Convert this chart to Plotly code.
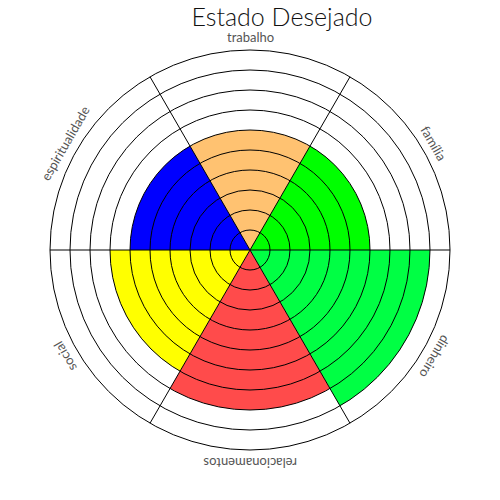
import numpy as np
import plotly.graph_objects as go

categories = ["trabalho", "família", "dinheiro", "relacionamentos", "social", "espiritualidade"]
values = [6, 6, 9, 8, 7, 6]
colors = ["#FFC271", "#00FF00", "#00FF44", "#FF4B4B", "#FFFF00", "#0000FF"]
r_max = 10

n = len(categories)
step = 360 / n
thetas = [90 - step * i for i in range(n)]

fig = go.Figure()
for cat, v, c, th in zip(categories, values, colors, thetas):
    fig.add_trace(go.Barpolar(
        r=[v], theta=[th], width=[step], name=cat,
        marker=dict(color=c, line=dict(width=0)),
        subplot="polar", showlegend=False, hoverinfo="skip"))

# invisible trace so the overlay subplot is drawn
fig.add_trace(go.Scatterpolar(r=[0], theta=[0], mode="markers",
                              marker=dict(opacity=0), subplot="polar2",
                              showlegend=False, hoverinfo="skip"))

common_radial = dict(range=[0, r_max], showticklabels=False, ticks="", showline=False)
fig.update_layout(
    width=500, height=500,
    margin=dict(l=42, r=58, t=42, b=58),
    paper_bgcolor="white",
    showlegend=False,
    title=dict(text="Estado Desejado", x=0.548, xanchor="center",
               y=1.0, yanchor="top", yref="container",
               pad=dict(t=0, b=0),
               font=dict(family="Lato", size=25, color="#111", weight=300)),
    polar=dict(
        domain=dict(x=[0, 1], y=[0, 1]),
        bgcolor="white",
        radialaxis=dict(**common_radial, showgrid=False),
        angularaxis=dict(showgrid=False, showticklabels=False, ticks="",
                         showline=False, direction="counterclockwise", rotation=0),
    ),
    polar2=dict(
        domain=dict(x=[0, 1], y=[0, 1]),
        bgcolor="rgba(0,0,0,0)",
        radialaxis=dict(**common_radial, showgrid=True, dtick=1, tick0=0,
                        gridcolor="black", gridwidth=1),
        angularaxis=dict(showgrid=True, gridcolor="black", gridwidth=1,
                         tickmode="linear", tick0=0, dtick=step,
                         showticklabels=False, ticks="",
                         showline=True, linecolor="black", linewidth=1,
                         direction="counterclockwise", rotation=0),
    ),
)

# tangential category labels
label_r = 1.065  # relative to outer radius
for cat, th in zip(categories, thetas):
    a = np.deg2rad(th)
    xp = 0.5 + 0.5 * label_r * np.cos(a)
    yp = 0.5 + 0.5 * label_r * np.sin(a)
    fig.add_annotation(x=xp, y=yp, xref="paper", yref="paper", text=cat,
                       showarrow=False, textangle=90 - th,
                       xanchor="center", yanchor="middle",
                       font=dict(family="Lato", size=13, color="#555"))

fig.write_html("out.html")
